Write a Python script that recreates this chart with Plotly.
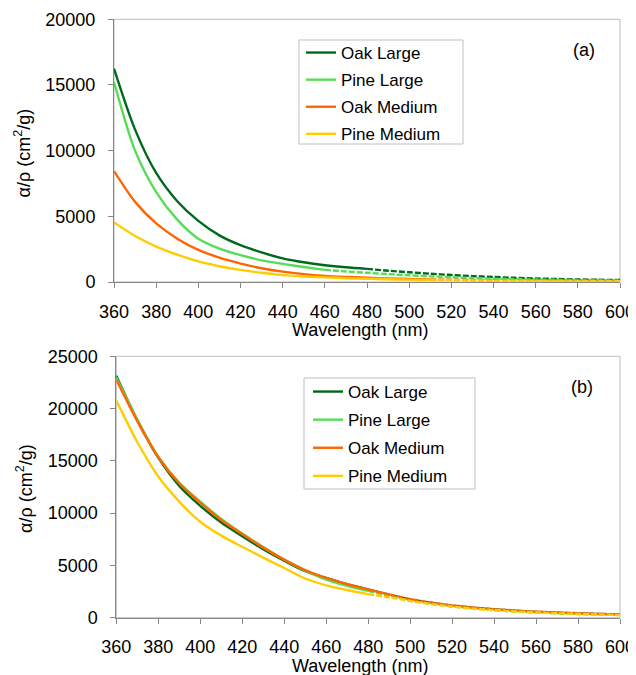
import plotly.graph_objects as go

# ---------------- data ----------------
wavelength = [360, 370, 380, 390, 400, 410, 420, 430, 440, 450, 460, 470, 480,
              490, 500, 510, 520, 530, 540, 550, 560, 570, 580, 590, 600]

series_names = ["Oak Large", "Pine Large", "Oak Medium", "Pine Medium"]

# panel (a)
a_oak_large = [16250, 11600, 8300, 6150, 4650, 3550, 2800, 2250, 1800, 1500, 1280, 1120, 1000,
               860, 740, 630, 530, 450, 380, 320, 270, 230, 195, 170, 150]
a_pine_large = [15230, 10000, 6850, 4750, 3300, 2550, 2050, 1650, 1380, 1140, 920, 800, 700,
                600, 510, 430, 360, 300, 250, 215, 190, 165, 145, 130, 120]
a_oak_medium = [8440, 6100, 4460, 3300, 2450, 1850, 1400, 1050, 790, 600, 470, 390, 330,
                270, 230, 200, 170, 150, 130, 120, 110, 100, 95, 90, 85]
a_pine_medium = [4540, 3500, 2700, 2080, 1570, 1200, 920, 700, 520, 420, 350, 290, 245,
                 210, 180, 160, 140, 120, 105, 95, 85, 75, 70, 65, 60]
a_measured_to = [480, 460, 510, 510]

# panel (b)
b_oak_large = [23150, 18900, 15300, 12600, 10700, 9100, 7800, 6550, 5450, 4450, 3800, 3200, 2700,
               2200, 1750, 1420, 1150, 960, 800, 670, 560, 480, 410, 360, 320]
b_pine_large = [23000, 18950, 15400, 12900, 11100, 9450, 8050, 6750, 5550, 4500, 3650, 3050, 2560,
                2100, 1650, 1330, 1080, 890, 730, 610, 500, 420, 360, 300, 260]
b_oak_medium = [22770, 18800, 15350, 12850, 11000, 9350, 8000, 6700, 5550, 4550, 3800, 3200, 2700,
                2230, 1780, 1450, 1180, 980, 820, 690, 580, 500, 430, 370, 320]
b_pine_medium = [20760, 16800, 13500, 11100, 9180, 7850, 6780, 5750, 4750, 3750, 3100, 2650, 2250,
                 1950, 1600, 1300, 1060, 870, 720, 600, 500, 420, 360, 300, 260]
b_measured_to = [480, 480, 490, 480]

x_ticks = [360, 380, 400, 420, 440, 460, 480, 500, 520, 540, 560, 580, 600]
a_y_ticks = [0, 5000, 10000, 15000, 20000]
b_y_ticks = [0, 5000, 10000, 15000, 20000, 25000]

# ---------------- style ----------------
colors = ["#006A1C", "#55DD55", "#FF6600", "#FFCC00"]
FONT = "Liberation Sans, Arial, sans-serif"
W, H = 628, 667          # page has an 8px body margin inside the 636x675 window
LW = 2.4

fig = go.Figure()


def add_panel(values_list, measured_to, xa, ya, legend_id):
    for name, vals, cut, col in zip(series_names, values_list, measured_to, colors):
        xs_solid = [w for w in wavelength if w <= cut]
        ys_solid = [v for w, v in zip(wavelength, vals) if w <= cut]
        xs_dash = [w for w in wavelength if w >= cut]
        ys_dash = [v for w, v in zip(wavelength, vals) if w >= cut]
        grp = legend_id + name
        fig.add_trace(go.Scatter(x=xs_solid, y=ys_solid, mode="lines", name=name,
                                 line=dict(color=col, width=LW, shape="spline", smoothing=0.8),
                                 xaxis=xa, yaxis=ya, legend=legend_id, legendgroup=grp,
                                 showlegend=True))
        fig.add_trace(go.Scatter(x=xs_dash, y=ys_dash, mode="lines", name=name,
                                 line=dict(color=col, width=LW, shape="spline", smoothing=0.8,
                                           dash="6px,2px"),
                                 xaxis=xa, yaxis=ya, legend=legend_id, legendgroup=grp,
                                 showlegend=False))


add_panel([a_oak_large, a_pine_large, a_oak_medium, a_pine_medium], a_measured_to, "x", "y", "legend")
add_panel([b_oak_large, b_pine_large, b_oak_medium, b_pine_medium], b_measured_to, "x2", "y2", "legend2")

# pixel layout (figure coordinates)
a_left, a_right, a_top, a_bottom = 106, 612, 11.3, 274
b_left, b_right, b_top, b_bottom = 108.3, 612, 348.3, 609.7

axis_common = dict(showline=True, linecolor="#868686", linewidth=1, ticks="outside",
                   ticklen=5, tickcolor="#868686", showgrid=False, zeroline=False,
                   tickfont=dict(family=FONT, size=18, color="#000"), mirror=False)

legend_common = dict(xanchor="left", yanchor="top", borderwidth=0,
                     bgcolor="rgba(0,0,0,0)",
                     font=dict(family=FONT, size=17, color="#000"))

fig.update_layout(
    width=W, height=H, autosize=False,
    margin=dict(l=0, r=0, t=0, b=0, autoexpand=False),
    paper_bgcolor="white", plot_bgcolor="white",
    font=dict(family=FONT, size=18, color="#000"),
    xaxis=dict(domain=[a_left / W, a_right / W], range=[360, 600], tickvals=x_ticks,
               anchor="y", ticklabelstandoff=8, **axis_common),
    yaxis=dict(domain=[1 - a_bottom / H, 1 - a_top / H], range=[0, 20000], tickvals=a_y_ticks,
               tickformat="d", anchor="x", ticklabelstandoff=9, **axis_common),
    xaxis2=dict(domain=[b_left / W, b_right / W], range=[360, 600], tickvals=x_ticks,
                anchor="y2", ticklabelstandoff=8, **axis_common),
    yaxis2=dict(domain=[1 - b_bottom / H, 1 - b_top / H], range=[0, 25000], tickvals=b_y_ticks,
                tickformat="d", anchor="x2", ticklabelstandoff=9, **axis_common),
    legend=dict(x=293 / W, y=1 - 27 / H, tracegroupgap=2, **legend_common),
    legend2=dict(x=300 / W, y=1 - 366 / H, tracegroupgap=3, **legend_common),
    showlegend=True,
)

# plot-area borders (top/right light gray) and legend frames
for xr, yr in [("x domain", "y domain"), ("x2 domain", "y2 domain")]:
    fig.add_shape(type="rect", xref=xr, yref=yr, x0=0, x1=1, y0=0, y1=1,
                  line=dict(color="#BFBFBF", width=1), layer="below")
for (x0, y0, x1, y1) in [(291, 32, 455, 136), (296, 370, 467, 481)]:
    fig.add_shape(type="rect", xref="paper", yref="paper",
                  x0=x0 / W, x1=x1 / W, y0=1 - y1 / H, y1=1 - y0 / H,
                  line=dict(color="#BFBFBF", width=1), fillcolor="rgba(0,0,0,0)", layer="below")

ann_font = dict(family=FONT, size=18, color="#000")
ytitle = "\u03b1/\u03c1 (cm<sup>2</sup>/g)"
fig.add_annotation(text="Wavelength (nm)", x=352 / W, y=1 - 322 / H, xref="paper", yref="paper",
                   showarrow=False, font=ann_font, xanchor="center", yanchor="middle")
fig.add_annotation(text="Wavelength (nm)", x=352 / W, y=1 - 657.5 / H, xref="paper", yref="paper",
                   showarrow=False, font=ann_font, xanchor="center", yanchor="middle")
fig.add_annotation(text=ytitle, x=15 / W, y=1 - 145.5 / H, xref="paper", yref="paper",
                   showarrow=False, font=ann_font, textangle=-90, xanchor="center", yanchor="middle")
fig.add_annotation(text=ytitle, x=16 / W, y=1 - 481 / H, xref="paper", yref="paper",
                   showarrow=False, font=ann_font, textangle=-90, xanchor="center", yanchor="middle")
fig.add_annotation(text="(a)", x=576 / W, y=1 - 42 / H, xref="paper", yref="paper",
                   showarrow=False, font=ann_font, xanchor="center", yanchor="middle")
fig.add_annotation(text="(b)", x=574 / W, y=1 - 379 / H, xref="paper", yref="paper",
                   showarrow=False, font=ann_font, xanchor="center", yanchor="middle")

fig.write_html("out.html")
